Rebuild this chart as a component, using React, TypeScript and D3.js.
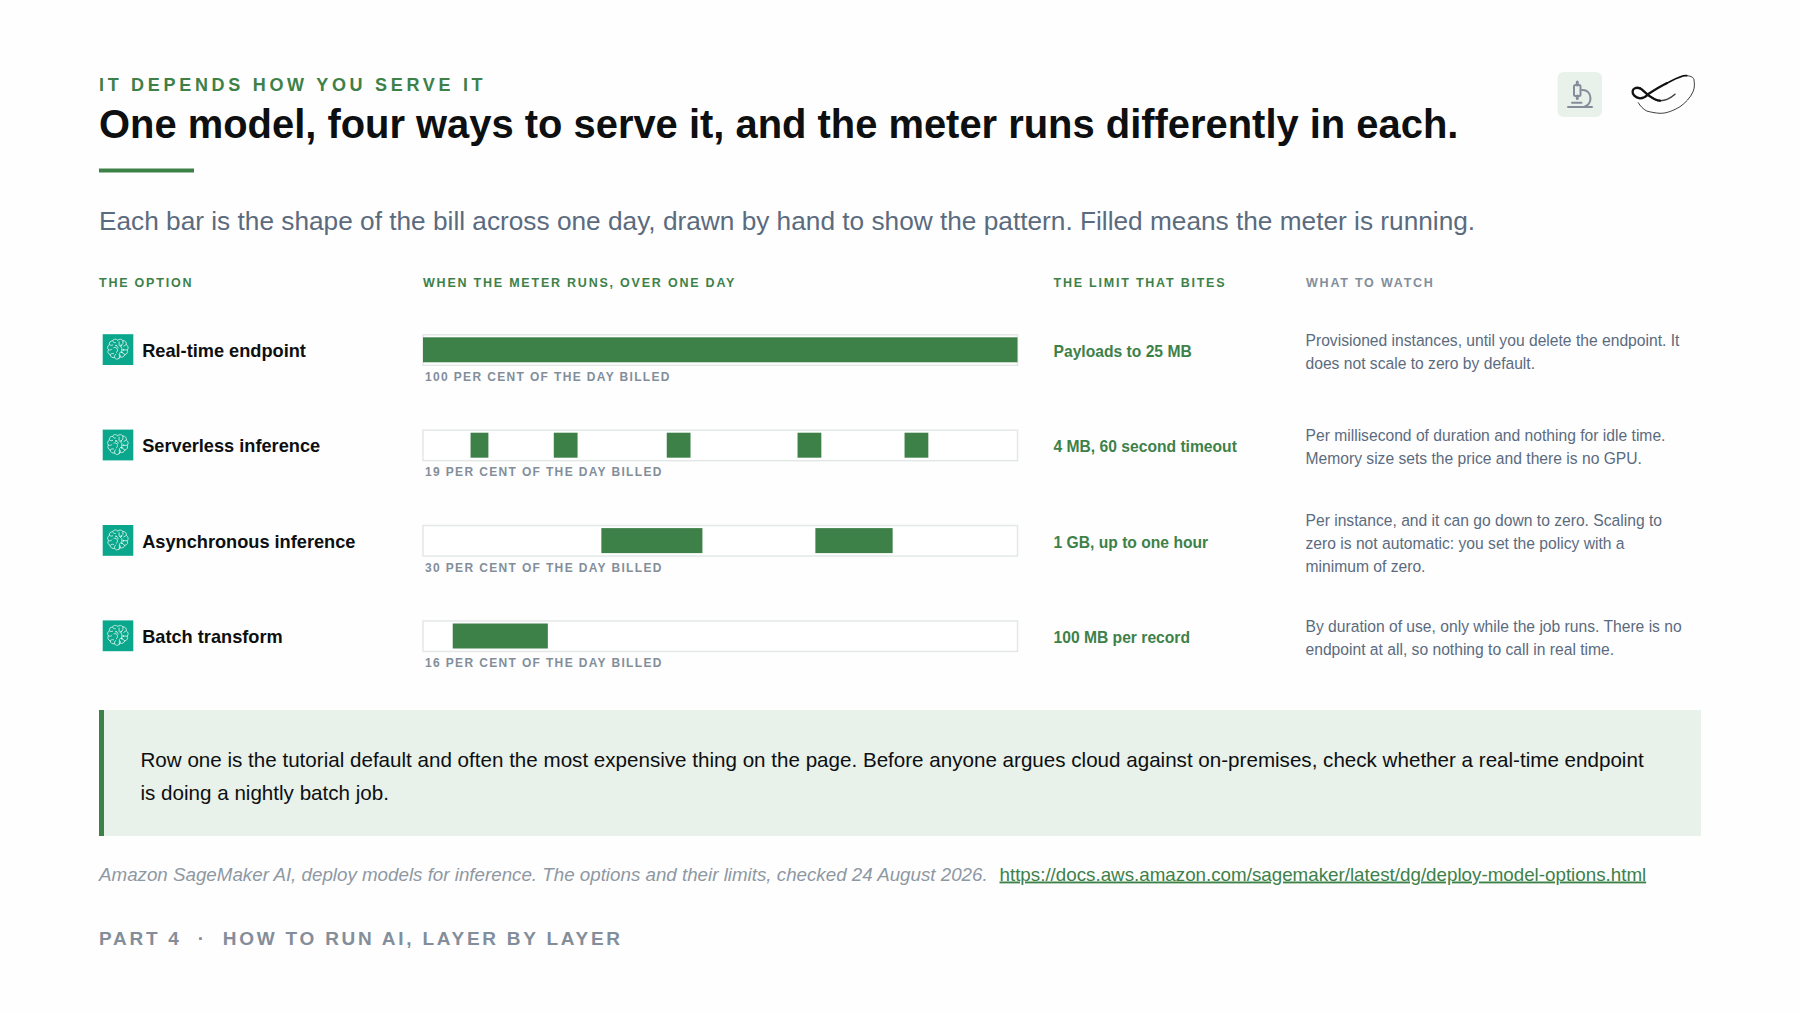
import React from "react";
import * as d3 from "d3";

const eyebrow = "IT DEPENDS HOW YOU SERVE IT";
const title = "One model, four ways to serve it, and the meter runs differently in each.";
const subtitle = "Each bar is the shape of the bill across one day, drawn by hand to show the pattern. Filled means the meter is running.";
const options = ["Real-time endpoint", "Serverless inference", "Asynchronous inference", "Batch transform"];
const billedPercent = [100, 19, 30, 16];
const meterSegments: [number, number][][] = [
  [[0, 100]],
  [[8, 11], [22, 26], [41, 45], [63, 67], [81, 85]],
  [[30, 47], [66, 79]],
  [[5, 21]],
];
const limits = ["Payloads to 25 MB", "4 MB, 60 second timeout", "1 GB, up to one hour", "100 MB per record"];
const watch = [
  ["Provisioned instances, until you delete the endpoint. It", "does not scale to zero by default."],
  ["Per millisecond of duration and nothing for idle time.", "Memory size sets the price and there is no GPU."],
  ["Per instance, and it can go down to zero. Scaling to", "zero is not automatic: you set the policy with a", "minimum of zero."],
  ["By duration of use, only while the job runs. There is no", "endpoint at all, so nothing to call in real time."],
];
const headers = ["THE OPTION", "WHEN THE METER RUNS, OVER ONE DAY", "THE LIMIT THAT BITES", "WHAT TO WATCH"];
const callout = [
  "Row one is the tutorial default and often the most expensive thing on the page. Before anyone argues cloud against on-premises, check whether a real-time endpoint",
  "is doing a nightly batch job.",
];
const sourceText = "Amazon SageMaker AI, deploy models for inference. The options and their limits, checked 24 August 2026.";
const sourceUrl = "https://docs.aws.amazon.com/sagemaker/latest/dg/deploy-model-options.html";
const footer = "PART 4  ·  HOW TO RUN AI, LAYER BY LAYER";

const GREEN = "#3d8149";
const TINT = "#e8f1ea";
const SLATE = "#5b6b7e";
const GREY = "#838e9a";
const FONT = "'Liberation Sans', Arial, sans-serif";

const rowY = d3.scaleLinear().domain([0, 1]).range([334, 429.4]);
const dayX = d3.scaleLinear().domain([0, 100]).range([423, 1017.5]);

function BrainIcon({ x, y }: { x: number; y: number }) {
  return (
    <g transform={`translate(${x},${y})`}>
      <rect x={0.2} y={0.2} width={30.6} height={30.8} fill="#0aa78c" />
      <g fill="none" stroke="#d6f2ea" strokeWidth={0.85} strokeLinecap="round" strokeLinejoin="round">
        <path d="M15.200 6.200c-1.400-1.700-4.300-1.300-5.100.7-2.200-.1-3.700 1.700-3.200 3.700-2 1-2.400 3.600-.9 5.100-1.300 1.800-.5 4.300 1.700 4.900.1 2.200 2.300 3.600 4.400 2.900.7 1.800 2.900 2.200 4.300 1" />
        <path d="M15.200 6.200c1.500-1.500 4.100-1.300 5.200.5 2.300-.2 4 1.800 3.400 3.900 2 1.100 2.500 3.900 .9 5.300 1.100 2-.2 4.400-2.400 4.700-.5 2.100-2.800 3.200-4.600 2.300l-1.300 1" />
        <path d="M10.100 6.900c.4 1.300 1.500 2 2.800 1.800M6.900 10.600c1 .9 2.300 1 3.300.4M6 15.700c1.200.7 2.600.4 3.400-.5M7.700 20.600c.9-1.200 2.200-1.500 3.400-1M12.100 23.500c-.5-1.300 0-2.600 1.200-3.200" />
        <path d="M13.500 11.500c1.300.2 2.200 1.200 2.100 2.500M11.500 13.500c1.500-.4 2.800.3 3.300 1.600s.1 2.800-1 3.500" />
        <path d="M16.600 7.800v3.400l2.700 2.700v3l-2.400 2.400v4.800" />
        <path d="M20.400 6.700v3l-1.700 1.700M23.800 10.600l-2.500 1.500M24.700 15.900h-3.900M22.300 20.600l-2.800-2.200M17.700 23.200v-2" />
      </g>
      <g fill="#d6f2ea">
        <circle cx={18.700} cy={11.400} r={0.9} />
        <circle cx={20.800} cy={15.900} r={0.9} />
        <circle cx={19.300} cy={18.300} r={0.9} />
        <circle cx={13.500} cy={11.500} r={0.8} />
      </g>
    </g>
  );
}

function App() {
  return (
    <svg width={1800} height={1012} viewBox="0 0 1800 1012" style={{ position: "absolute", left: 0, top: 0, display: "block", background: "#fefefe" }} fontFamily={FONT}>
      <text x={99} y={90.5} fontSize={18} fontWeight={700} fill={GREEN} letterSpacing={3.7}>{eyebrow}</text>
      <text x={99} y={137.5} fontSize={39.92} fontWeight={700} fill="#0d0f10">{title}</text>
      <rect x={99} y={168.5} width={95} height={4} fill={GREEN} />
      <text x={99} y={229.5} fontSize={26.24} fill={SLATE}>{subtitle}</text>

      <rect x={1557.5} y={72} width={44.5} height={45} rx={6} fill={TINT} />
      <g fill="none" stroke={GREY} strokeLinecap="round" strokeLinejoin="round">
        <path d="M1568 107h24" strokeWidth={2} />
        <path d="M1572 102.700h9.500" strokeWidth={2} />
        <path d="M1582 90c5-.5 8.500 3.500 8.500 8 0 4.500-2.500 7.500-6 8.700" strokeWidth={2} />
        <rect x={1574} y={85} width={6.500} height={11} rx={1.500} strokeWidth={2} />
        <path d="M1577.300 82v3M1577.300 96v2.500" strokeWidth={3} />
      </g>

      <g fill="none" stroke="#111" strokeLinecap="round" strokeLinejoin="round">
        <path d="M1675 94.300c-4 3.500-9 6.500-15 6.400-5-.2-9-3.700-12-5.700" strokeWidth={1.500} opacity={0.8} />
        <path d="M1660 100.700c-5-.1-9-3.700-12-5.700-3-2.300-5.500-5.500-8-6.700" strokeWidth={2.300} />
        <path d="M1640 88.300c-4-1.500-7 .5-7.400 2.900-.4 3 2.400 6.300 7.400 7.100 3.500 0 6.500-2.200 8-4 6-4 12.500-8 18.700-11" strokeWidth={2.300} />
        <path d="M1666.700 83.300c7-3.500 15-8.500 20-7.600" strokeWidth={1.700} />
        <path d="M1686.700 75.700c5 .2 7.300 2.300 7.300 4.300 .6 3.800 .7 8-1 11.700-2.500 6-8 11.500-13 15-6 3.500-13 6.800-20 6.600-5-.2-9.500-1.300-13.300-2.300-3.500-1.800-6.500-5-8.400-8.300" strokeWidth={0.9} opacity={0.9} />
      </g>

      {headers.map((h, i) => (
        <text key={h} x={[99, 423, 1053.5, 1306][i]} y={286.5} fontSize={12.5} fontWeight={700} letterSpacing={1.78} fill={i === 3 ? GREY : GREEN}>{h}</text>
      ))}

      {options.map((name, i) => {
        const top = rowY(i);
        return (
          <g key={name}>
            <BrainIcon x={102.500} y={top} />
            <text x={142.200} y={top + 22.800} fontSize={18.200} fontWeight={700} fill="#0d0f10">{name}</text>
            <rect x={dayX(0)} y={top + 0.75} width={dayX(100) - dayX(0)} height={30.5} fill="#fff" stroke="#e3e8e6" strokeWidth={1.5} />
            {meterSegments[i].map(([a, b]) => (
              <rect key={a} x={dayX(a)} y={top + 3.300} width={dayX(b) - dayX(a)} height={25} fill={GREEN} />
            ))}
            <text x={425} y={top + 47} fontSize={12} fontWeight={700} letterSpacing={1.350} fill={GREY}>{`${billedPercent[i]} PER CENT OF THE DAY BILLED`}</text>
            <text x={1053.500} y={top + 23} fontSize={15.650} fontWeight={700} fill={GREEN}>{limits[i]}</text>
            {watch[i].map((line, j) => {
              const startY = top + 12 - (watch[i].length === 3 ? 11 : 0);
              return (
                <text key={j} x={1305.500} y={startY + j * 23} fontSize={15.650} fill={SLATE}>{line}</text>
              );
            })}
          </g>
        );
      })}

      <rect x={99} y={710} width={1602} height={126} fill={TINT} />
      <rect x={99} y={710} width={5} height={126} fill={GREEN} />
      {callout.map((line, i) => (
        <text key={i} x={140.500} y={767.300 + i * 33} fontSize={20.600} fill="#0d0f10">{line}</text>
      ))}

      <text x={99} y={880.500} fontSize={18.760} fontStyle="italic" fill="#8e98a3">{sourceText}</text>
      <text x={999.500} y={880.500} fontSize={18.780} fill={GREEN} textDecoration="underline">{sourceUrl}</text>

      <text x={99} y={945} fontSize={19} fontWeight={700} letterSpacing={2.750} fill={GREY} style={{ whiteSpace: "pre" }}>{footer}</text>
    </svg>
  );
}

export default App;
